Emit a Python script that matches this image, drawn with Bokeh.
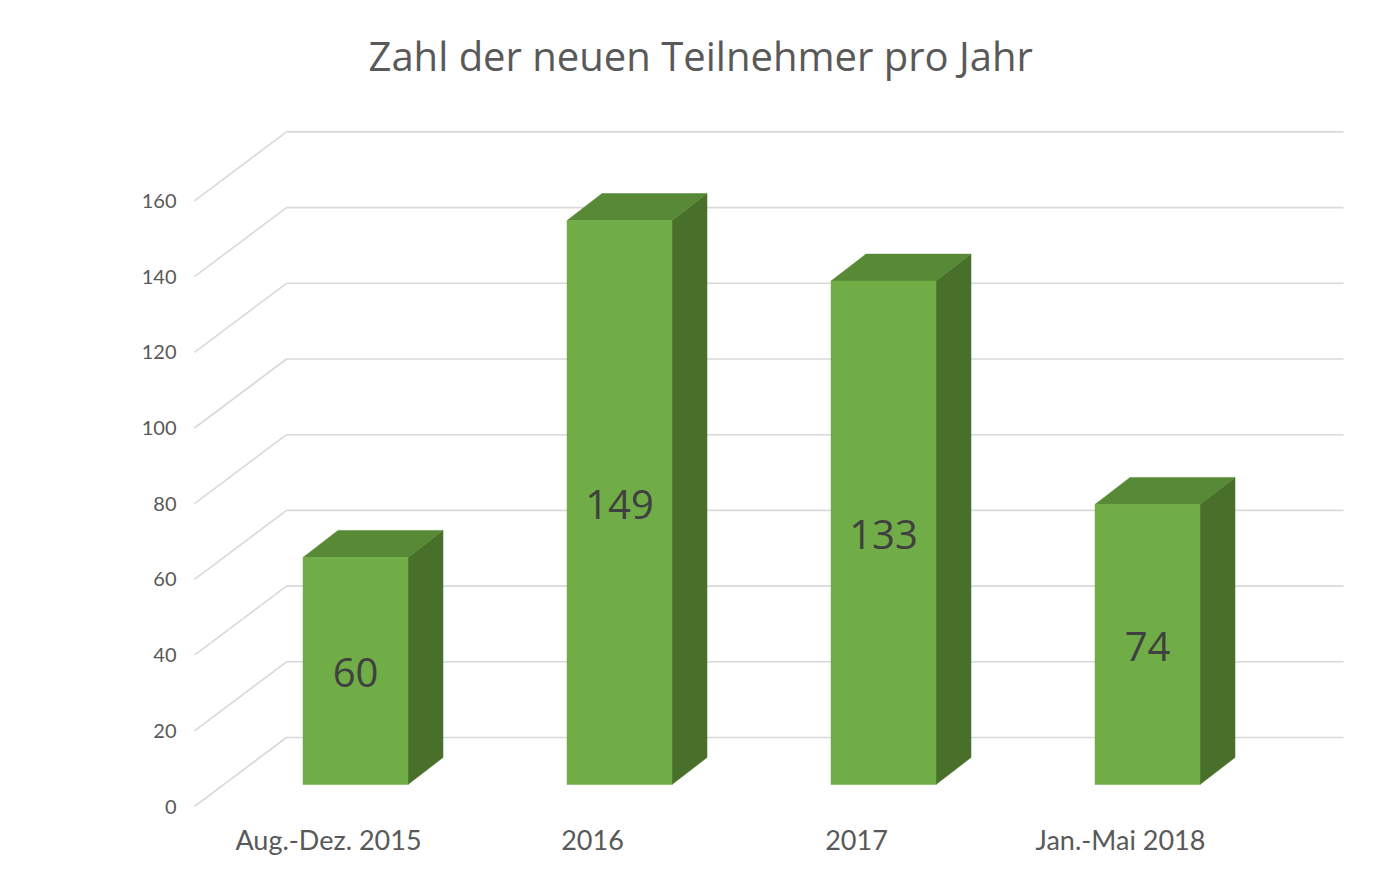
from bokeh.plotting import figure
from bokeh.models import Range1d, FixedTicker, Title, ColumnDataSource
from bokeh.core.properties import value
from bokeh.embed import file_html
from bokeh.resources import INLINE

# ---- data ----
categories = ["Aug.-Dez. 2015", "2016", "2017", "Jan.-Mai 2018"]
values = [60, 149, 133, 74]
y_ticks = [0, 20, 40, 60, 80, 100, 120, 140, 160]

# ---- layout constants (figure pixels) ----
W, H = 1365, 878
FL, FR, FT, FB = 186, 1350, 100, 815
PX_PER_CAT = 264.0
PX_PER_VAL = 3.785
X0_PX = 328.0   # category 0 on the front plane
Y0_PX = 806.0   # value 0 on the front plane

x_start = (FL - X0_PX) / PX_PER_CAT
x_end = (FR - X0_PX) / PX_PER_CAT
y_start = (Y0_PX - FB) / PX_PER_VAL
y_end = (Y0_PX - FT) / PX_PER_VAL

# depth offsets (converted to data units)
WALL_DX = 92 / PX_PER_CAT
WALL_DY = 69 / PX_PER_VAL
FLOOR_X0 = (194 - X0_PX) / PX_PER_CAT
WALL_X_END = (1343 - X0_PX) / PX_PER_CAT
BAR_DX0 = 27 / PX_PER_CAT
BAR_DY0 = 22 / PX_PER_VAL
BAR_HALF = 52.5 / PX_PER_CAT
BAR_DDX = 35 / PX_PER_CAT
BAR_DDY = 27 / PX_PER_VAL

FRONT = "#70AD47"
TOP = "#578936"
SIDE = "#48702A"
GRID = "#d9d9d9"
TXT = "#595959"

p = figure(width=W, height=H, output_backend="svg", toolbar_location=None,
           x_range=Range1d(x_start, x_end), y_range=Range1d(y_start, y_end),
           min_border_left=FL, min_border_right=W - FR,
           min_border_top=FT, min_border_bottom=H - FB,
           background_fill_color="white", border_fill_color="white")
p.outline_line_color = None
p.xgrid.visible = False
p.ygrid.visible = False

# ---- 3D grid (side wall diagonals + back wall lines) ----
gxs = [[FLOOR_X0, FLOOR_X0 + WALL_DX, WALL_X_END] for t in y_ticks]
gys = [[t, t + WALL_DY, t + WALL_DY] for t in y_ticks]
p.multi_line(gxs, gys, line_color=GRID, line_width=1.6)

# ---- bars ----
cx = [i + BAR_DX0 for i in range(len(values))]
left = [c - BAR_HALF for c in cx]
right = [c + BAR_HALF for c in cx]
bottom = [BAR_DY0 for _ in values]
top = [BAR_DY0 + v for v in values]

top_xs = [[l, l + BAR_DDX, r + BAR_DDX, r] for l, r in zip(left, right)]
top_ys = [[t, t + BAR_DDY, t + BAR_DDY, t] for t in top]
side_xs = [[r, r + BAR_DDX, r + BAR_DDX, r] for r in right]
side_ys = [[b, b + BAR_DDY, t + BAR_DDY, t] for b, t in zip(bottom, top)]

p.patches(side_xs, side_ys, fill_color=SIDE, line_color=SIDE, line_width=0.5)
p.patches(top_xs, top_ys, fill_color=TOP, line_color=TOP, line_width=0.5)
p.quad(left=left, right=right, bottom=bottom, top=top,
       fill_color=FRONT, line_color=FRONT, line_width=0.5)

# ---- data labels ----
lab_src = ColumnDataSource(dict(x=cx, y=[b + v / 2 for b, v in zip(bottom, values)],
                                t=[str(v) for v in values]))
p.text(x="x", y="y", text="t", source=lab_src, text_align="center",
       text_baseline="middle", text_font=value("Open Sans"),
       text_font_size="40px", text_color="#404040", y_offset=2)

# ---- axes ----
p.yaxis.ticker = FixedTicker(ticks=y_ticks)
p.yaxis.axis_line_color = None
p.yaxis.major_tick_line_color = None
p.yaxis.minor_tick_line_color = None
p.yaxis.major_tick_out = 0
p.yaxis.major_tick_in = 0
p.yaxis.major_label_standoff = 10
p.yaxis.major_label_text_font = "Lato"
p.yaxis.major_label_text_font_size = "20px"
p.yaxis.major_label_text_color = TXT

p.xaxis.ticker = FixedTicker(ticks=list(range(len(categories))))
p.xaxis.major_label_overrides = {i: c for i, c in enumerate(categories)}
p.xaxis.axis_line_color = None
p.xaxis.major_tick_line_color = None
p.xaxis.minor_tick_line_color = None
p.xaxis.major_tick_out = 0
p.xaxis.major_tick_in = 0
p.xaxis.major_label_standoff = 7
p.xaxis.major_label_text_font = "Lato"
p.xaxis.major_label_text_font_size = "27px"
p.xaxis.major_label_text_color = TXT

p.add_layout(Title(text="Zahl der neuen Teilnehmer pro Jahr", align="left",
                   offset=182, standoff=35, text_font="Open Sans",
                   text_font_size="40px", text_font_style="normal",
                   text_color=TXT), "above")

open("out.html", "w").write(file_html(p, INLINE))
